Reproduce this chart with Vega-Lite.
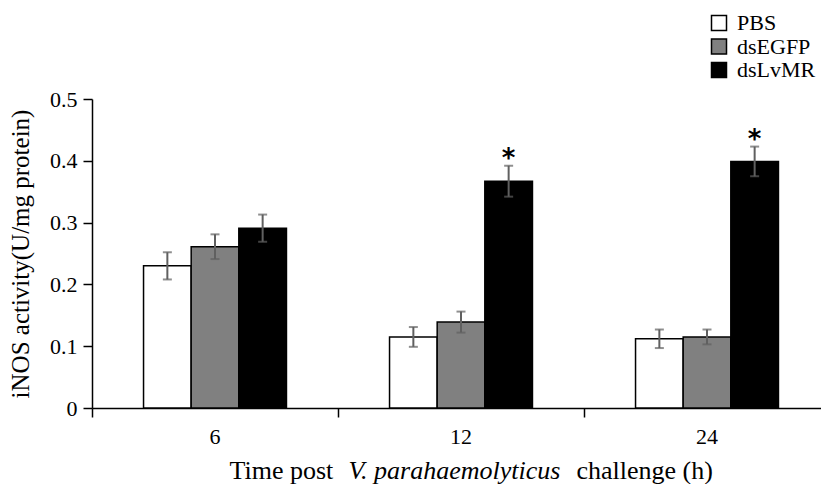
{
  "$schema": "https://vega.github.io/schema/vega-lite/v6.json",
  "autosize": {"type": "none"},
  "padding": {"left": 92, "top": 99, "right": 0, "bottom": 76},
  "width": 729,
  "height": 309,
  "background": "white",
  "config": {
    "view": {"stroke": null},
    "font": "Liberation Serif",
    "axis": {"grid": false, "domainColor": "black", "tickColor": "black", "labelColor": "black", "titleColor": "black", "labelFont": "Liberation Serif", "titleFont": "Liberation Serif", "labelFontSize": 22, "titleFontSize": 22, "titleFontWeight": "normal", "domainWidth": 1.5, "tickWidth": 1.5, "tickSize": 9}
  },
  "data": {
    "values": [
      {"time": "6", "group": "PBS", "mean": 0.23, "lo": 0.208, "hi": 0.252, "sig": ""},
      {"time": "6", "group": "dsEGFP", "mean": 0.261, "lo": 0.241, "hi": 0.281, "sig": ""},
      {"time": "6", "group": "dsLvMR", "mean": 0.291, "lo": 0.269, "hi": 0.313, "sig": ""},
      {"time": "12", "group": "PBS", "mean": 0.115, "lo": 0.099, "hi": 0.131, "sig": ""},
      {"time": "12", "group": "dsEGFP", "mean": 0.139, "lo": 0.122, "hi": 0.156, "sig": ""},
      {"time": "12", "group": "dsLvMR", "mean": 0.367, "lo": 0.342, "hi": 0.392, "sig": "*"},
      {"time": "24", "group": "PBS", "mean": 0.112, "lo": 0.097, "hi": 0.127, "sig": ""},
      {"time": "24", "group": "dsEGFP", "mean": 0.115, "lo": 0.103, "hi": 0.127, "sig": ""},
      {"time": "24", "group": "dsLvMR", "mean": 0.399, "lo": 0.375, "hi": 0.423, "sig": "*"}
    ]
  },
  "encoding": {
    "x": {"field": "time", "type": "nominal", "sort": ["6", "12", "24"],
      "scale": {"type": "band", "range": [0, 738], "paddingInner": 0.419, "paddingOuter": 0.2095}},
    "xOffset": {"field": "group", "type": "nominal", "sort": ["PBS", "dsEGFP", "dsLvMR"], "scale": {"paddingInner": 0, "paddingOuter": 0}}
  },
  "resolve": {"axis": {"x": "independent"}},
  "layer": [
    {
      "mark": {"type": "bar", "stroke": "black", "strokeWidth": 1.5},
      "encoding": {
        "x": {"field": "time", "type": "nominal", "sort": ["6", "12", "24"],
          "axis": {"orient": "bottom", "labelAngle": 0, "bandPosition": -0.36, "labelPadding": 9, "title": "Time post", "titleX": 137, "titleY": 70, "titleAlign": "left", "titleBaseline": "alphabetic", "titleFontSize": 26}},
        "y": {"field": "mean", "type": "quantitative",
          "scale": {"domain": [0, 0.5], "nice": false},
          "axis": {"values": [0, 0.1, 0.2, 0.3, 0.4, 0.5], "format": "~g", "labelPadding": 6, "title": "iNOS activity(U/mg protein)", "titlePadding": 16, "titleFontSize": 25}},
        "fill": {"field": "group", "type": "nominal", "sort": ["PBS", "dsEGFP", "dsLvMR"],
          "scale": {"domain": ["PBS", "dsEGFP", "dsLvMR"], "range": ["#ffffff", "#808080", "#000000"]},
          "legend": {"title": null, "orient": "none", "legendX": 616, "legendY": -87, "padding": 0, "symbolType": "square", "symbolSize": 225, "symbolStrokeColor": "black", "symbolStrokeWidth": 1.5, "labelFont": "Liberation Serif", "labelFontSize": 22, "labelColor": "black", "labelOffset": 7, "rowPadding": 1.5}}
      }
    },
    {
      "mark": {"type": "rule", "color": "#606060", "strokeWidth": 2},
      "encoding": {
        "x": {"field": "time", "type": "nominal", "sort": ["6", "12", "24"],
          "axis": {"orient": "bottom", "domain": false, "ticks": false, "labels": false, "title": "V. parahaemolyticus", "titleFontStyle": "italic", "titleX": 256, "titleY": 70, "titleAlign": "left", "titleBaseline": "alphabetic", "titleFontSize": 26}},
        "y": {"field": "lo", "type": "quantitative"},
        "y2": {"field": "hi"}
      }
    },
    {
      "mark": {"type": "tick", "color": "#606060", "thickness": 2, "size": 9, "orient": "horizontal"},
      "encoding": {
        "x": {"field": "time", "type": "nominal", "sort": ["6", "12", "24"], "axis": null},
        "y": {"field": "lo", "type": "quantitative"}
      }
    },
    {
      "mark": {"type": "tick", "color": "#606060", "thickness": 2, "size": 9, "orient": "horizontal"},
      "encoding": {
        "x": {"field": "time", "type": "nominal", "sort": ["6", "12", "24"], "axis": null},
        "y": {"field": "hi", "type": "quantitative"}
      }
    },
    {
      "mark": {"type": "text", "font": "DejaVu Sans", "fontWeight": "bold", "fontSize": 26, "baseline": "bottom", "dy": 6, "color": "black"},
      "encoding": {
        "x": {"field": "time", "type": "nominal", "sort": ["6", "12", "24"],
          "axis": {"orient": "bottom", "domain": false, "ticks": false, "labels": false, "title": "challenge (h)", "titleX": 484, "titleY": 70, "titleAlign": "left", "titleBaseline": "alphabetic", "titleFontSize": 26}},
        "y": {"field": "hi", "type": "quantitative"},
        "text": {"field": "sig"}
      }
    }
  ]
}
